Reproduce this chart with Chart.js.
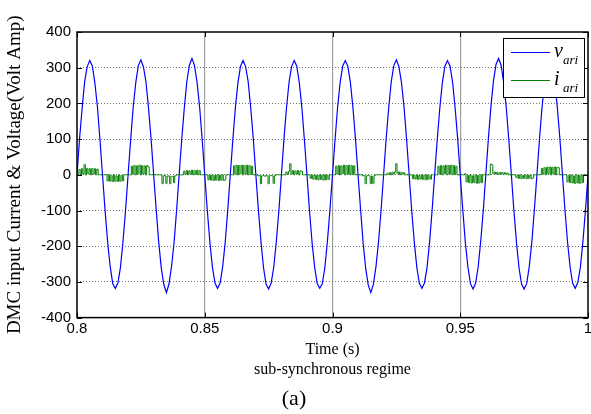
<!DOCTYPE html>
<html>
<head>
<meta charset="utf-8">
<script src="https://cdn.jsdelivr.net/npm/chart.js@4.4.0/dist/chart.umd.min.js"></script>
<style>
  html, body { margin: 0; padding: 0; background: #fff; }
</style>
</head>
<body>
<canvas id="chart" width="591" height="414"></canvas>
<script>
// sampling grids (s)
const tStart = 0.8;
const vStep = 0.001;
const iStep = 0.0005;

const xTicks = [0.8, 0.85, 0.9, 0.95, 1];
const yTicks = [-400, -300, -200, -100, 0, 100, 200, 300, 400];

// v_ari, one row per 20 ms cycle
const vAri = [
  0, 101, 186, 261, 303, 320, 305, 257, 190, 97, -2, -101, -189, -258, -305, -318, -303, -260, -187, -100,
  1, 98, 190, 258, 306, 322, 302, 260, 186, 100, 1, -98, -190, -262, -308, -330, -306, -257, -189, -98,
  2, 100, 187, 262, 307, 326, 306, 258, 189, 98, -1, -100, -188, -259, -303, -318, -304, -258, -190, -99,
  0, 99, 189, 258, 304, 320, 303, 261, 187, 101, 0, -99, -187, -260, -306, -320, -303, -259, -188, -101,
  -1, 100, 188, 260, 303, 320, 305, 258, 189, 98, 1, -101, -189, -258, -304, -318, -305, -261, -187, -99,
  1, 98, 190, 259, 305, 320, 304, 259, 188, 100, -1, -98, -191, -263, -309, -330, -307, -258, -189, -100,
  0, 101, 188, 261, 306, 322, 303, 258, 190, 99, 0, -100, -188, -259, -304, -318, -303, -260, -188, -98,
  2, 99, 187, 259, 304, 320, 305, 260, 187, 100, -1, -99, -190, -258, -305, -320, -304, -259, -187, -101,
  0, 100, 191, 263, 309, 326, 307, 259, 189, 98, 1, -101, -188, -261, -306, -320, -305, -258, -190, -99,
  -1, 99, 188, 259, 303, 318, 304, 260, 188, 101, 0, -100, -189, -259, -304, -318, -302, -260, -188, -100,
  0
];

// i_ari, one row per 10 ms
const iAri = [
  0, 0, 15, 0, 17, 2, 29, 0, 18, 3, 17, 0, 18, 2, 17, 0, 16, 0, 0, 0,
  0, 0, 0, 0, -17, 0, -18, -2, -19, 0, -18, -3, -19, 0, -18, -2, -17, 0, 0, 0,
  0, 0, 0, 24, 2, 26, 0, 25, 3, 27, 0, 26, 2, 25, 0, 26, 22, 0, 0, 0,
  0, 0, 0, 0, 0, 0, 0, -25, -3, -2, -24, -4, -3, -25, -5, -4, -22, -3, 0, 0,
  0, 0, 0, 0, 10, 1, 12, 0, 11, 2, 13, 0, 12, 1, 13, 0, 12, 0, 0, 0,
  0, 0, 0, -14, -1, -15, 0, -16, -2, -15, 0, -16, -1, -15, 0, -16, -14, 0, 0, 0,
  0, 0, 0, 25, 2, 27, 0, 26, 3, 27, 0, 26, 2, 27, 0, 26, 1, 24, 0, 0,
  0, 0, -3, -2, -25, -3, -2, -4, -3, -2, -25, -3, -2, -3, -24, -2, 0, 0, 0, 0,
  0, 0, 0, 0, 8, 1, 10, 31, 2, 12, 0, 11, 2, 12, 0, 11, 10, 0, 0, 0,
  0, 0, 0, -10, -1, -12, 0, -13, -2, -14, 0, -13, -1, -15, 0, -14, -1, -13, 0, 0,
  0, 0, 0, 24, 2, 26, 0, 25, 3, 27, 0, 26, 2, 27, 0, 26, 1, 25, 0, 0,
  0, 0, 0, 0, -3, -2, -25, -3, -2, -3, -25, -4, -24, -2, 0, 0, 0, 0, 0, 0,
  0, 0, 0, 4, 1, 6, 0, 7, 2, 8, 31, 3, 8, 0, 7, 2, 6, 0, 0, 0,
  0, 0, 0, -11, -1, -12, 0, -13, -2, -12, 0, -13, -1, -14, 0, -13, -2, -12, 0, 0,
  0, 0, 0, 24, 2, 26, 0, 25, 3, 27, 0, 26, 2, 27, 0, 26, 1, 24, 0, 0,
  0, 0, 0, 0, 3, -20, -2, -22, 0, -23, -3, -22, 0, -24, -2, -23, 0, -22, 0, 0,
  0, 0, 0, 0, 30, 28, 3, 8, 2, 7, 1, 6, 2, 7, 1, 6, 2, 5, 0, 0,
  0, 0, 0, 0, -8, -1, -10, 0, -11, -2, -10, 0, -11, -1, -10, 0, -11, -9, 0, 0,
  0, 0, 0, 0, 18, 2, 20, 0, 21, 3, 22, 0, 21, 2, 22, 0, 21, 20, 0, 0,
  0, 0, 0, 0, -20, -2, -22, 0, -23, -3, -24, 0, -23, -2, -24, 0, -22, 0, 0, 0,
  0
];

const toPoints = (vals, step) => vals.map((y, k) => ({ x: tStart + k * step, y: y }));

// matlab style box, inward ticks and the legend with subscripts
const frame = {
  id: 'frame',
  afterDatasetsDraw(chart) {
    const { ctx, chartArea: a, scales } = chart;
    ctx.save();
    ctx.strokeStyle = '#000';
    ctx.lineWidth = 1;
    ctx.beginPath();
    xTicks.forEach(v => {
      const px = Math.round(scales.x.getPixelForValue(v)) + 0.5;
      ctx.moveTo(px, a.bottom); ctx.lineTo(px, a.bottom - 5);
      ctx.moveTo(px, a.top); ctx.lineTo(px, a.top + 5);
    });
    yTicks.forEach(v => {
      const py = Math.round(scales.y.getPixelForValue(v)) + 0.5;
      ctx.moveTo(a.left, py); ctx.lineTo(a.left + 5, py);
      ctx.moveTo(a.right, py); ctx.lineTo(a.right - 5, py);
    });
    ctx.stroke();
    ctx.lineWidth = 1.5;
    ctx.strokeRect(a.left, a.top, a.right - a.left, a.bottom - a.top);

    const bw = 81, bh = 59;
    const bx = Math.round(a.right - bw - 4), by = Math.round(a.top + 6);
    ctx.fillStyle = '#fff';
    ctx.fillRect(bx, by, bw, bh);
    ctx.lineWidth = 1;
    ctx.strokeRect(bx + 0.5, by + 0.5, bw, bh);
    chart.data.datasets.forEach((ds, k) => {
      const ly = by + 14 + k * 28;
      ctx.strokeStyle = ds.borderColor;
      ctx.beginPath();
      ctx.moveTo(bx + 8, ly + 0.5);
      ctx.lineTo(bx + 47, ly + 0.5);
      ctx.stroke();
      const [main, sub] = ds.label.split('_');
      ctx.fillStyle = '#000';
      ctx.textAlign = 'left';
      ctx.textBaseline = 'alphabetic';
      ctx.font = 'italic 20px "Liberation Serif"';
      ctx.fillText(main, bx + 51, ly + 5);
      ctx.font = 'italic 13px "Liberation Serif"';
      ctx.fillText(sub, bx + 60, ly + 12);
    });
    ctx.restore();
  }
};

new Chart(document.getElementById('chart'), {
  type: 'line',
  data: {
    datasets: [
      { label: 'v_ari', data: toPoints(vAri, vStep), borderColor: '#0000ff', borderWidth: 1.2, pointRadius: 0, order: 1 },
      { label: 'i_ari', data: toPoints(iAri, iStep), borderColor: '#008000', borderWidth: 1, pointRadius: 0, stepped: 'middle', order: 0 }
    ]
  },
  options: {
    responsive: false,
    animation: false,
    layout: { padding: { top: 32, right: 3, left: 0, bottom: 0 } },
    plugins: {
      legend: { display: false },
      tooltip: { enabled: false },
      title: {
        display: true,
        position: 'bottom',
        text: '(a)',
        color: '#000',
        font: { family: '"Liberation Serif"', size: 22, weight: 'normal' },
        padding: { top: 2, bottom: 2 }
      }
    },
    scales: {
      x: {
        type: 'linear',
        min: 0.8,
        max: 1,
        afterBuildTicks: s => { s.ticks = xTicks.map(v => ({ value: v })); },
        afterFit: s => { s.height = 66; s.paddingLeft = 0; s.paddingRight = 0; },
        ticks: {
          color: '#000',
          font: { family: '"Liberation Sans"', size: 15 },
          padding: 2,
          maxRotation: 0,
          autoSkip: false,
          callback: v => String(Number(v.toFixed(2)))
        },
        grid: {
          drawTicks: false,
          color: c => (c.index === 0 || c.index === xTicks.length - 1) ? 'rgba(0,0,0,0)' : '#a0a0a0',
          lineWidth: 1.2
        },
        border: { display: false },
        title: {
          display: true,
          text: ['Time (s)', 'sub-synchronous regime'],
          color: '#000',
          font: { family: '"Liberation Serif"', size: 16, lineHeight: 1.25 },
          padding: { top: 0, bottom: 4 }
        }
      },
      y: {
        min: -400,
        max: 400,
        afterBuildTicks: s => { s.ticks = yTicks.map(v => ({ value: v })); },
        afterFit: s => { s.width = 77; },
        ticks: {
          color: '#000',
          font: { family: '"Liberation Sans"', size: 15 },
          padding: 6
        },
        grid: {
          drawTicks: false,
          color: c => (c.index === 0 || c.index === yTicks.length - 1) ? 'rgba(0,0,0,0)' : '#707070'
        },
        border: { display: false, dash: [1, 2] },
        title: {
          display: true,
          text: 'DMC input Current & Voltage(Volt Amp)',
          color: '#000',
          font: { family: '"Liberation Serif"', size: 19 },
          padding: { top: 4, bottom: 0 }
        }
      }
    }
  },
  plugins: [frame]
});
</script>
</body>
</html>
